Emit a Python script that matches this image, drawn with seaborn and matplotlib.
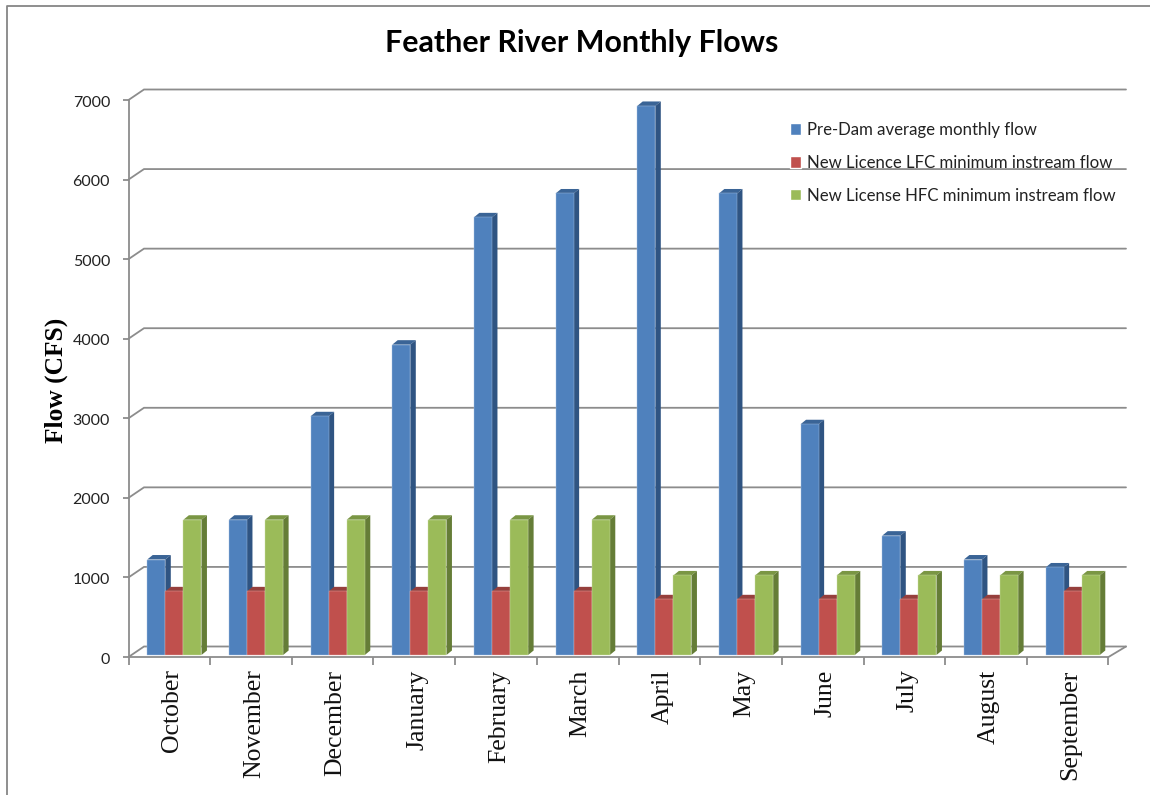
import matplotlib
matplotlib.use("Agg")
import matplotlib.pyplot as plt
from matplotlib.lines import Line2D
from matplotlib.patches import Polygon
from matplotlib.transforms import ScaledTranslation
import pandas as pd
import seaborn as sns

months = ["October", "November", "December", "January", "February", "March",
          "April", "May", "June", "July", "August", "September"]
pre_dam = [1200, 1700, 3000, 3900, 5500, 5800, 6900, 5800, 2900, 1500, 1200, 1100]
lfc_min = [800, 800, 800, 800, 800, 800, 700, 700, 700, 700, 700, 800]
hfc_min = [1700, 1700, 1700, 1700, 1700, 1700, 1000, 1000, 1000, 1000, 1000, 1000]
series_names = ["Pre-Dam average monthly flow",
                "New Licence LFC minimum instream flow",
                "New License HFC minimum instream flow"]
y_ticks = [0, 1000, 2000, 3000, 4000, 5000, 6000, 7000]

W, H = 1150, 795
FRONT = ["#4F81BD", "#C0504D", "#9BBB59"]
TOP = ["#3A6496", "#963F3C", "#7A9644"]
SIDE = ["#2F5482", "#85332F", "#657D37"]
EDGE = ["#A9C3E3", "#E3B4B2", "#CFE0AC"]
GRID = "#8C8C8C"
LW = 1.3

df = pd.DataFrame({
    "Month": months * 3,
    "Flow": pre_dam + lfc_min + hfc_min,
    "Series": [s for s in series_names for _ in months],
})

sns.set_theme(style="white")
plt.rcParams["font.family"] = ["Lato", "DejaVu Sans"]

fig = plt.figure(figsize=(W / 100, H / 100), dpi=100, facecolor="white")
L, R, T, B = 128.5, 1108.5, 100.0, 657.0
ax = fig.add_axes([L / W, 1 - B / H, (R - L) / W, (B - T) / H])
ax.patch.set_alpha(0)

sns.barplot(data=df, x="Month", y="Flow", hue="Series", hue_order=series_names,
            palette=FRONT, saturation=1, width=0.664, gap=0, ax=ax, zorder=10,
            err_kws={"linewidth": 0})

ax.set_xlim(-0.5, 11.5)
ax.set_ylim(0, 7000)

ux = (R - L) / 12          # px per category
uy = (B - T) / 7000        # px per flow unit

# Offset of the bars into the "3D" floor, and the depth of each bar
shift_x, shift_y = 5.0 / ux, 2.0 / uy
depth_x, depth_y = 5.5 / ux, 4.5 / uy

for i, cont in enumerate(ax.containers):
    for bar in cont:
        bar.set_x(bar.get_x() + shift_x)
        bar.set_y(bar.get_y() + shift_y)
        bar.set_zorder(11 + 3 * i)
        bar.set_edgecolor(EDGE[i])
        bar.set_linewidth(0.3)
        x0, w, y0, h = bar.get_x(), bar.get_width(), bar.get_y(), bar.get_height()
        y1 = y0 + h
        ax.add_patch(Polygon([(x0, y1), (x0 + w, y1), (x0 + w + depth_x, y1 + depth_y),
                              (x0 + depth_x, y1 + depth_y)], closed=True,
                             facecolor=TOP[i], edgecolor="none", zorder=10 + 3 * i))
        ax.add_patch(Polygon([(x0 + w, y0), (x0 + w, y1), (x0 + w + depth_x, y1 + depth_y),
                              (x0 + w + depth_x, y0 + depth_y)], closed=True,
                             facecolor=SIDE[i], edgecolor="none", zorder=10 + 3 * i))

# Back wall and floor
wall_lx, wall_rx, wall_y = 15.5 / ux, 17.5 / ux, 10.5 / uy
for v in y_ticks:
    ax.plot([-0.5, -0.5 + wall_lx, 11.5 + wall_rx], [v, v + wall_y, v + wall_y],
            color=GRID, lw=LW, clip_on=False, zorder=1, solid_joinstyle="miter")
ax.plot([11.5, 11.5 + wall_rx], [0, wall_y], color=GRID, lw=LW, clip_on=False, zorder=1)

# Axes
for side in ("top", "right"):
    ax.spines[side].set_visible(False)
for side in ("left", "bottom"):
    ax.spines[side].set_color(GRID)
    ax.spines[side].set_linewidth(LW)

ax.set_yticks(y_ticks)
ax.set_yticklabels([str(v) for v in y_ticks])
ax.set_xticks(range(len(months)))
ax.set_xticklabels(months, rotation=90, family=["Liberation Serif"], fontsize=18.5, color="#111111")
ax.set_xticks([i - 0.5 for i in range(13)], minor=True)
ax.tick_params(axis="y", which="major", left=True, length=4.3, width=LW, color=GRID,
               pad=9, labelsize=11.5, labelcolor="#222222")
ax.tick_params(axis="x", which="major", bottom=False, length=0, pad=9)
ax.tick_params(axis="x", which="minor", bottom=True, length=6, width=LW, color=GRID)
ax.set_xlabel("")
ax.set_ylabel("")

# Small nudges of the tick labels, in pixels
for lab in ax.get_xticklabels():
    lab.set_transform(lab.get_transform() + ScaledTranslation(3 / 100, 0, fig.dpi_scale_trans))
for lab in ax.get_yticklabels():
    lab.set_transform(lab.get_transform() + ScaledTranslation(0, -1 / 100, fig.dpi_scale_trans))

# Legend
handles, labels = ax.get_legend_handles_labels()
ax.legend(handles, labels, frameon=False, loc="upper left",
          bbox_to_anchor=(790 / W, 1 - 122 / H), bbox_transform=fig.transFigure,
          fontsize=12.1, handlelength=0.66, handleheight=0.66, handletextpad=0.33,
          labelspacing=1.0, borderpad=0, borderaxespad=0, labelcolor="#222222").set_zorder(30)

# Title, y label, chart frame
fig.text(582 / W, 1 - 43 / H, "Feather River Monthly Flows", ha="center", va="center",
         fontsize=21.9, fontweight="bold", color="black")
fig.text(56 / W, 1 - 380 / H, "Flow (CFS)", rotation=90, ha="center", va="center",
         family=["Liberation Serif"], fontsize=18.3, fontweight="bold", color="black")
fig.add_artist(Line2D([6.5 / W, 6.5 / W, 1], [0, 1 - 6 / H, 1 - 6 / H],
                      color="#868686", lw=1.3, transform=fig.transFigure))

fig.savefig("out.png", dpi=100, facecolor="white")
